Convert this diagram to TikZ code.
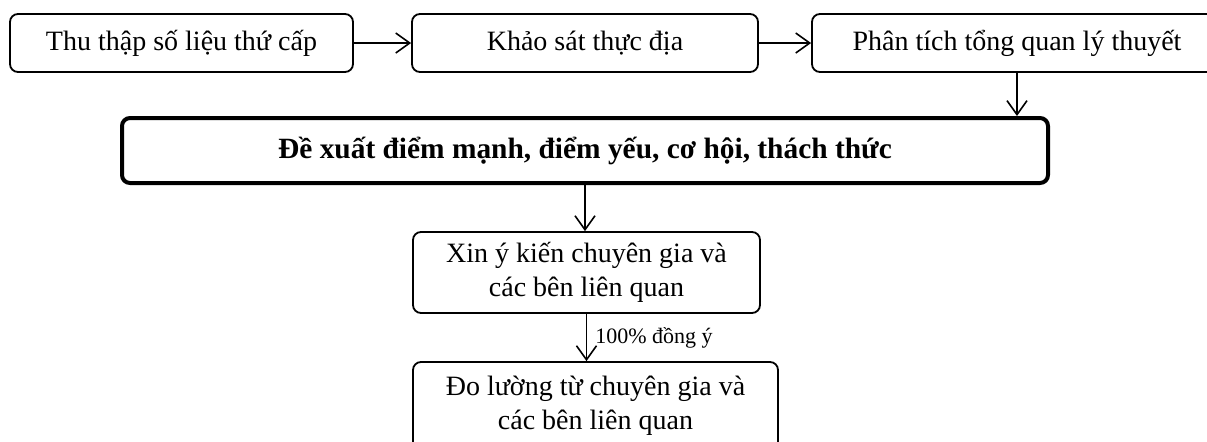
\documentclass[tikz,border=0pt]{standalone}
\usepackage{fontspec}
\setmainfont{Liberation Serif}
\usetikzlibrary{arrows.meta}
\begin{document}
\begin{tikzpicture}[x=0.5pt,y=-0.5pt,
    stepbox/.style={draw, rounded corners=4pt, line width=0.9pt, inner sep=0pt, align=center, font=\fontsize{14}{17}\selectfont},
    mainbox/.style={stepbox, line width=2pt, font=\fontsize{14.7}{17}\selectfont\bfseries},
    arr/.style={-{Straight Barb[length=7pt,width=10pt,line width=0.8pt]}, line width=0.8pt}]
    \useasboundingbox (0,0) rectangle (1207,441);
    {
    % Drawing box thu
    \node [stepbox, minimum width=171.5pt, minimum height=29pt] (thu) at (181.5,43) {Thu thập số liệu thứ cấp};%

    % Drawing box khao
    \node [stepbox, minimum width=173pt, minimum height=29pt] (khao) at (585,43) {Khảo sát thực địa};%

    % Drawing box phan
    \node [stepbox, minimum width=205pt, minimum height=29pt] (phan) at (1017,43) {Phân tích tổng quan lý thuyết};%

    % Drawing box dexuat
    \node [mainbox, minimum width=463pt, minimum height=32.5pt] (dexuat) at (585,150.5) {Đề xuất điểm mạnh, điểm yếu, cơ hội, thách thức};%

    % Drawing box xin
    \node [stepbox, minimum width=173.5pt, minimum height=40.5pt] (xin) at (586.5,272.5) {Xin ý kiến chuyên gia và\\các bên liên quan};%

    % Drawing box doluong
    \node [stepbox, minimum width=182.5pt, minimum height=44pt] (doluong) at (595.5,406) {Đo lường từ chuyên gia và\\các bên liên quan};%

    % Drawing arrows
    \draw [arr] (thu.east) -- (khao.west);%
    \draw [arr] (khao.east) -- (phan.west);%
    \draw [arr] (phan.south) -- (phan.south |- dexuat.north);%
    \draw [arr] (dexuat.south) -- (dexuat.south |- xin.north);%
    \draw [arr] (xin.south) -- node [anchor=west, font=\fontsize{11}{12}\selectfont, inner sep=4pt] (dongy) {100\% đồng ý} (xin.south |- doluong.north);%
    }
\end{tikzpicture}
\end{document}
